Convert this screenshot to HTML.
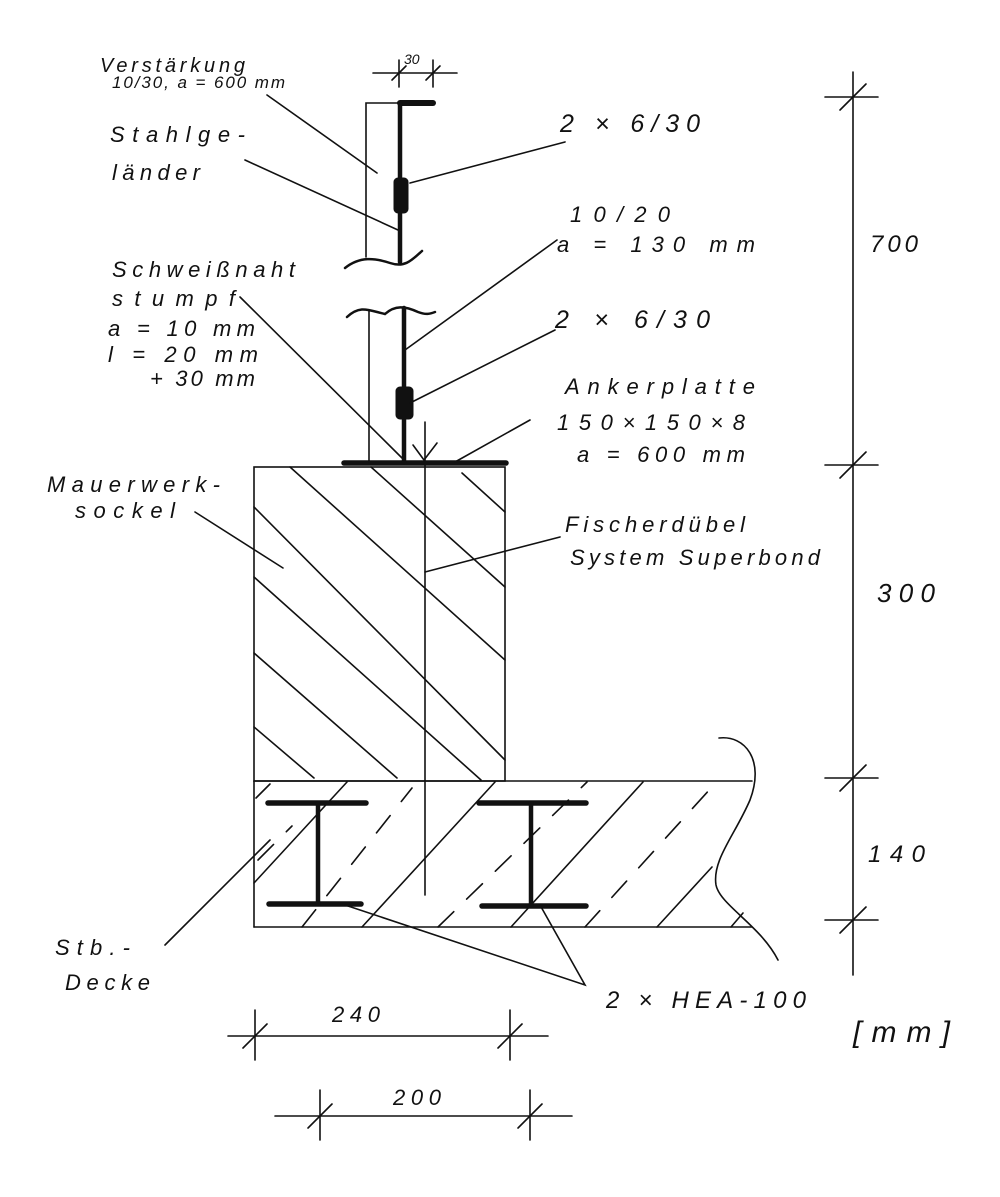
<!DOCTYPE html>
<html><head><meta charset="utf-8"><style>
html,body{margin:0;padding:0;background:#fff;}
svg{display:block}
text{font-family:"Liberation Sans","DejaVu Sans",sans-serif;font-style:italic;fill:#111;}
</style></head><body>
<svg width="1000" height="1197" viewBox="0 0 1000 1197" xmlns="http://www.w3.org/2000/svg">
<g stroke="#111" fill="none" stroke-width="1.6" stroke-linecap="round">
<rect x="254" y="467" width="251" height="314"/>
<line x1="290" y1="467" x2="505" y2="660"/>
<line x1="371" y1="467" x2="505" y2="587"/>
<line x1="462" y1="473" x2="505" y2="512"/>
<line x1="254" y1="507" x2="505" y2="760"/>
<line x1="254" y1="577" x2="481" y2="780"/>
<line x1="254" y1="653" x2="397" y2="778"/>
<line x1="254" y1="727" x2="314" y2="778"/>
<line x1="254" y1="781" x2="752" y2="781"/>
<line x1="254" y1="781" x2="254" y2="927"/>
<line x1="254" y1="927" x2="752" y2="927"/>
<path d="M719,738 C745,735 765,760 750,800 C735,835 712,860 716,885 C720,905 760,925 778,960"/>
<line x1="254" y1="883" x2="347" y2="782"/>
<line x1="362" y1="927" x2="495" y2="782"/>
<line x1="511" y1="927" x2="643" y2="782"/>
<line x1="657" y1="927" x2="712" y2="867"/>
<line x1="731" y1="927" x2="743" y2="913"/>
<g stroke-dasharray="22 18">
<line x1="256" y1="798" x2="270" y2="784"/>
<line x1="302" y1="927" x2="412" y2="788"/>
<line x1="438" y1="927" x2="587" y2="782"/>
<line x1="585" y1="927" x2="711" y2="788"/>
<line x1="258" y1="860" x2="292" y2="826"/>
</g>
<line x1="425" y1="422" x2="425" y2="895"/>
<polyline points="413,445 424,460 437,443"/>
<g stroke-width="5.5">
<line x1="268" y1="803" x2="366" y2="803"/>
<line x1="269" y1="904" x2="361" y2="904"/>
<line x1="479" y1="803" x2="586" y2="803"/>
<line x1="482" y1="906" x2="586" y2="906"/>
</g>
<line x1="318" y1="803" x2="318" y2="904" stroke-width="4.5"/>
<line x1="531" y1="803" x2="531" y2="906" stroke-width="4.5"/>
<line x1="344" y1="463" x2="506" y2="463" stroke-width="5.5"/>
<polyline points="366,257 366,103 400,103"/>
<line x1="400" y1="103" x2="433" y2="103" stroke-width="6"/>
<line x1="400" y1="103" x2="400" y2="262" stroke-width="4.5"/>
<rect x="394" y="178" width="14" height="35" rx="4" fill="#111" stroke-width="1"/>
<path d="M345,268 C360,256 375,258 390,263 C405,268 412,260 422,251" stroke-width="2.5"/>
<path d="M347,317 C360,305 368,310 385,314 C395,305 405,306 418,312 C426,315 430,314 435,312" stroke-width="2.5"/>
<line x1="369" y1="310" x2="369" y2="462"/>
<line x1="404" y1="308" x2="404" y2="462" stroke-width="4.5"/>
<rect x="396" y="387" width="17" height="32" rx="4" fill="#111" stroke-width="1"/>
<line x1="373" y1="73" x2="457" y2="73"/>
<line x1="399" y1="60" x2="399" y2="87"/>
<line x1="433" y1="60" x2="433" y2="87"/>
<line x1="392" y1="80" x2="406" y2="66"/>
<line x1="426" y1="80" x2="440" y2="66"/>
<line x1="267" y1="95" x2="377" y2="173"/>
<line x1="245" y1="160" x2="398" y2="230"/>
<line x1="565" y1="142" x2="410" y2="183"/>
<line x1="557" y1="240" x2="405" y2="350"/>
<line x1="555" y1="330" x2="410" y2="403"/>
<line x1="530" y1="420" x2="455" y2="462"/>
<line x1="240" y1="297" x2="402" y2="458"/>
<line x1="195" y1="512" x2="283" y2="568"/>
<line x1="560" y1="537" x2="425" y2="572"/>
<line x1="165" y1="945" x2="270" y2="840"/>
<polyline points="345,905 585,985 540,905"/>
<line x1="853" y1="72" x2="853" y2="975"/>
<line x1="825" y1="97" x2="878" y2="97"/><line x1="840" y1="110" x2="866" y2="84"/>
<line x1="825" y1="465" x2="878" y2="465"/><line x1="840" y1="478" x2="866" y2="452"/>
<line x1="825" y1="778" x2="878" y2="778"/><line x1="840" y1="791" x2="866" y2="765"/>
<line x1="825" y1="920" x2="878" y2="920"/><line x1="840" y1="933" x2="866" y2="907"/>
<line x1="228" y1="1036" x2="548" y2="1036"/>
<line x1="255" y1="1010" x2="255" y2="1060"/><line x1="243" y1="1048" x2="267" y2="1024"/>
<line x1="510" y1="1010" x2="510" y2="1060"/><line x1="498" y1="1048" x2="522" y2="1024"/>
<line x1="275" y1="1116" x2="572" y2="1116"/>
<line x1="320" y1="1090" x2="320" y2="1140"/><line x1="308" y1="1128" x2="332" y2="1104"/>
<line x1="530" y1="1090" x2="530" y2="1140"/><line x1="518" y1="1128" x2="542" y2="1104"/>
</g>
<g font-size="22">
<text x="100" y="72" font-size="20" textLength="145" lengthAdjust="spacing">Verstärkung</text>
<text x="112" y="88" font-size="17" textLength="173" lengthAdjust="spacing">10/30, a = 600 mm</text>
<text x="404" y="64" font-size="14">30</text>
<text x="110" y="142" textLength="135" lengthAdjust="spacing">Stahlge-</text>
<text x="112" y="180" textLength="88" lengthAdjust="spacing">länder</text>
<text x="560" y="132" font-size="25" textLength="140" lengthAdjust="spacing">2 × 6/30</text>
<text x="570" y="222" textLength="100" lengthAdjust="spacing">10/20</text>
<text x="557" y="252" textLength="198" lengthAdjust="spacing">a = 130 mm</text>
<text x="112" y="277" textLength="183" lengthAdjust="spacing">Schweißnaht</text>
<text x="112" y="306" textLength="123" lengthAdjust="spacing">stumpf</text>
<text x="108" y="336" textLength="147" lengthAdjust="spacing">a = 10 mm</text>
<text x="108" y="362" textLength="150" lengthAdjust="spacing">l = 20 mm</text>
<text x="150" y="386" textLength="105" lengthAdjust="spacing">+ 30 mm</text>
<text x="555" y="328" font-size="25" textLength="155" lengthAdjust="spacing">2 × 6/30</text>
<text x="565" y="394" textLength="190" lengthAdjust="spacing">Ankerplatte</text>
<text x="557" y="430" textLength="188" lengthAdjust="spacing">150×150×8</text>
<text x="577" y="462" textLength="168" lengthAdjust="spacing">a = 600 mm</text>
<text x="47" y="492" textLength="173" lengthAdjust="spacing">Mauerwerk-</text>
<text x="75" y="518" textLength="100" lengthAdjust="spacing">sockel</text>
<text x="565" y="532" textLength="180" lengthAdjust="spacing">Fischerdübel</text>
<text x="570" y="565" textLength="250" lengthAdjust="spacing">System Superbond</text>
<text x="55" y="955" textLength="75" lengthAdjust="spacing">Stb.-</text>
<text x="65" y="990" textLength="85" lengthAdjust="spacing">Decke</text>
<text x="606" y="1008" font-size="24" textLength="200" lengthAdjust="spacing">2 × HEA-100</text>
<text x="870" y="252" font-size="24" textLength="48" lengthAdjust="spacing">700</text>
<text x="877" y="602" font-size="26" textLength="58" lengthAdjust="spacing">300</text>
<text x="868" y="862" font-size="24" textLength="57" lengthAdjust="spacing">140</text>
<text x="853" y="1042" font-size="30" textLength="97" lengthAdjust="spacing">[mm]</text>
<text x="332" y="1022" textLength="48" lengthAdjust="spacing">240</text>
<text x="393" y="1105" textLength="48" lengthAdjust="spacing">200</text>
</g>
</svg>
</body></html>
